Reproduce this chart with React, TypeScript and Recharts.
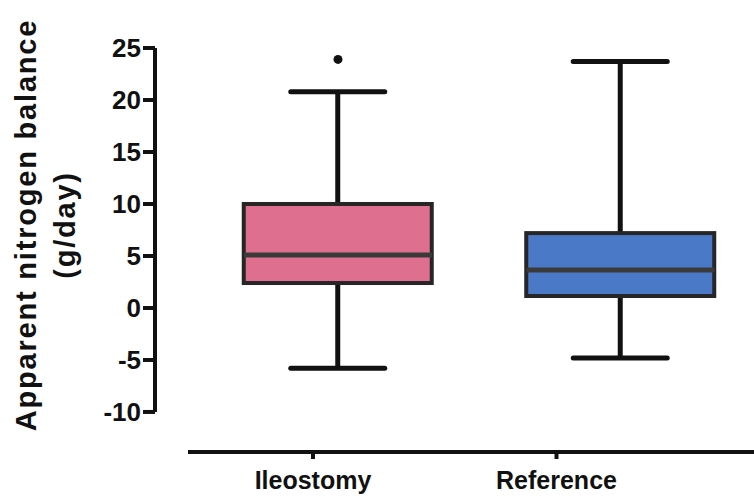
import React from 'react';
import { ComposedChart, Bar, Scatter, XAxis, YAxis, ReferenceLine } from 'recharts';

// box plot summary per group
const groups = ['Ileostomy', 'Reference'];
const positions = [1, 2];
const minValues = [-5.8, -4.8];
const q1Values = [2.4, 1.15];
const medianValues = [5.1, 3.65];
const q3Values = [10.0, 7.2];
const maxValues = [20.8, 23.7];
const boxColors = ['#DE6F8F', '#4A79C8'];
const outliers = [{ pos: 1, y: 23.9 }];
const yTicks = [-10, -5, 0, 5, 10, 15, 20, 25];

const data = groups.map((name, i) => ({
  name,
  pos: positions[i],
  whisker: [minValues[i], maxValues[i]],
  box: [q1Values[i], q3Values[i]],
  color: boxColors[i],
}));
const medians = groups.map((_, i) => ({ pos: positions[i], y: medianValues[i] }));

const FONT = '"Liberation Sans", Arial, Helvetica, sans-serif';
const BOX_WIDTH = 188;
const CAP_WIDTH = 94;
const Y_MIN = -13.85;
// the printed category axis is offset from the boxes in the figure
const BOX_DOMAIN = [0.3522, 2.4726];
const CAT_DOMAIN = [0.3511, 2.8111];
const X_LINE_START = 0.4866;

const WhiskerShape = (props: any) => {
  const { x, y, width, height } = props;
  const cx = x + width / 2;
  const top = Math.min(y, y + height);
  const bottom = Math.max(y, y + height);
  return (
    <g stroke="#111" strokeWidth={5}>
      <line x1={cx} x2={cx} y1={top} y2={bottom} />
      <line x1={x} x2={x + width} y1={top} y2={top} strokeLinecap="round" />
      <line x1={x} x2={x + width} y1={bottom} y2={bottom} strokeLinecap="round" />
    </g>
  );
};

const BoxShape = (props: any) => {
  const { x, y, width, height, payload } = props;
  return (
    <rect
      x={x}
      y={Math.min(y, y + height)}
      width={width}
      height={Math.abs(height)}
      fill={payload.color}
      stroke="#262626"
      strokeWidth={4}
    />
  );
};

const MedianShape = (props: any) => {
  const { cx, cy } = props;
  return <line x1={cx - BOX_WIDTH / 2} x2={cx + BOX_WIDTH / 2} y1={cy} y2={cy} stroke="#3a3a3a" strokeWidth={5} />;
};

const OutlierShape = (props: any) => {
  const { cx, cy } = props;
  return <circle cx={cx} cy={cy} r={4.5} fill="#111" />;
};

const YTitle = () => (
  <g transform="translate(36,225) rotate(-90)">
    <text x={0} y={0} textAnchor="middle" fontFamily={FONT} fontWeight="bold" fontSize={29} letterSpacing={1.8} fill="#111">
      Apparent nitrogen balance
    </text>
    <text x={0} y={39} textAnchor="middle" fontFamily={FONT} fontWeight="bold" fontSize={29} letterSpacing={1.8} fill="#111">
      (g/day)
    </text>
  </g>
);

export default function App() {
  return (
    <div style={{ position: 'absolute', left: 0, top: 0, width: 754, height: 497, background: '#fff' }}>
      <ComposedChart width={754} height={497} data={data} margin={{ top: 48, right: 0, bottom: 0, left: 0 }}>
        <XAxis
          xAxisId="cat"
          type="number"
          dataKey="pos"
          domain={CAT_DOMAIN}
          ticks={positions}
          allowDataOverflow
          height={45}
          axisLine={false}
          tickLine={{ stroke: '#111', strokeWidth: 4 }}
          tickSize={7}
          tickMargin={12}
          tickFormatter={(v: number) => groups[positions.indexOf(v)] ?? ''}
          tick={{ fill: '#111', fontFamily: FONT, fontWeight: 'bold', fontSize: 25 }}
        />
        <XAxis xAxisId="whisk" type="number" dataKey="pos" domain={BOX_DOMAIN} ticks={positions} allowDataOverflow height={0} hide />
        <XAxis xAxisId="box" type="number" dataKey="pos" domain={BOX_DOMAIN} ticks={positions} allowDataOverflow height={0} hide />
        <YAxis
          type="number"
          dataKey="y"
          domain={[Y_MIN, 25]}
          ticks={yTicks}
          allowDataOverflow
          width={155}
          axisLine={false}
          tickLine={{ stroke: '#111', strokeWidth: 4 }}
          tickSize={12}
          tickMargin={2}
          tick={{ fill: '#111', fontFamily: FONT, fontWeight: 'bold', fontSize: 26 }}
          label={{ content: () => <YTitle /> }}
        />
        <ReferenceLine
          xAxisId="box"
          segment={[{ x: BOX_DOMAIN[0], y: -10 }, { x: BOX_DOMAIN[0], y: 25 }]}
          stroke="#111"
          strokeWidth={4}
          ifOverflow="visible"
        />
        <ReferenceLine
          xAxisId="cat"
          segment={[{ x: X_LINE_START, y: Y_MIN }, { x: CAT_DOMAIN[1], y: Y_MIN }]}
          stroke="#111"
          strokeWidth={4}
          ifOverflow="visible"
        />
        <Bar xAxisId="whisk" dataKey="whisker" barSize={CAP_WIDTH} shape={WhiskerShape} isAnimationActive={false} />
        <Bar xAxisId="box" dataKey="box" barSize={BOX_WIDTH} shape={BoxShape} isAnimationActive={false} />
        <Scatter xAxisId="box" data={medians} dataKey="y" shape={MedianShape} isAnimationActive={false} />
        <Scatter xAxisId="box" data={outliers} dataKey="y" shape={OutlierShape} isAnimationActive={false} />
      </ComposedChart>
    </div>
  );
}
